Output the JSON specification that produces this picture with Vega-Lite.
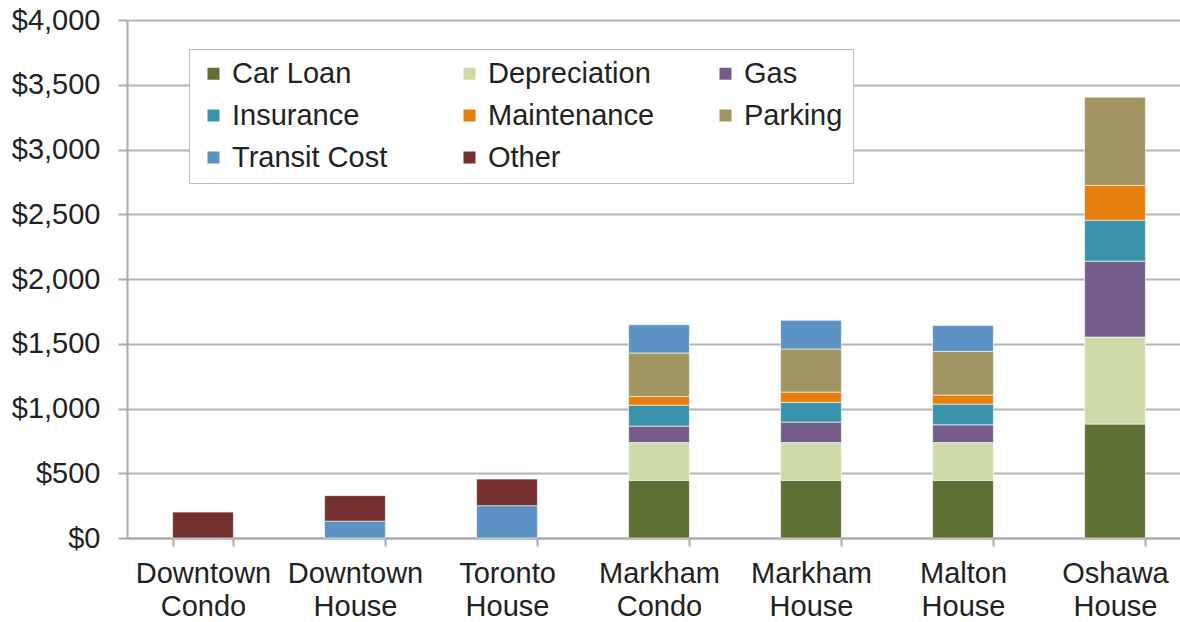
{
  "$schema": "https://vega.github.io/schema/vega-lite/v6.json",
  "width": 1064,
  "height": 518,
  "autosize": {"type": "none"},
  "padding": {"left": 127, "top": 20, "right": 0, "bottom": 84},
  "background": "white",
  "config": {"view": {"stroke": null}, "font": "Liberation Sans"},
  "data": {
    "values": [
      {"location": "Downtown Condo", "category": "Other", "cost": 200},
      {"location": "Downtown House", "category": "Transit Cost", "cost": 130},
      {"location": "Downtown House", "category": "Other", "cost": 197},
      {"location": "Toronto House", "category": "Transit Cost", "cost": 250},
      {"location": "Toronto House", "category": "Other", "cost": 205},
      {"location": "Markham Condo", "category": "Car Loan", "cost": 445},
      {"location": "Markham Condo", "category": "Depreciation", "cost": 292},
      {"location": "Markham Condo", "category": "Gas", "cost": 127},
      {"location": "Markham Condo", "category": "Insurance", "cost": 162},
      {"location": "Markham Condo", "category": "Maintenance", "cost": 67},
      {"location": "Markham Condo", "category": "Parking", "cost": 336},
      {"location": "Markham Condo", "category": "Transit Cost", "cost": 218},
      {"location": "Markham House", "category": "Car Loan", "cost": 445},
      {"location": "Markham House", "category": "Depreciation", "cost": 292},
      {"location": "Markham House", "category": "Gas", "cost": 158},
      {"location": "Markham House", "category": "Insurance", "cost": 152},
      {"location": "Markham House", "category": "Maintenance", "cost": 80},
      {"location": "Markham House", "category": "Parking", "cost": 333},
      {"location": "Markham House", "category": "Transit Cost", "cost": 221},
      {"location": "Malton House", "category": "Car Loan", "cost": 445},
      {"location": "Malton House", "category": "Depreciation", "cost": 292},
      {"location": "Malton House", "category": "Gas", "cost": 137},
      {"location": "Malton House", "category": "Insurance", "cost": 160},
      {"location": "Malton House", "category": "Maintenance", "cost": 70},
      {"location": "Malton House", "category": "Parking", "cost": 336},
      {"location": "Malton House", "category": "Transit Cost", "cost": 200},
      {"location": "Oshawa House", "category": "Car Loan", "cost": 880},
      {"location": "Oshawa House", "category": "Depreciation", "cost": 672},
      {"location": "Oshawa House", "category": "Gas", "cost": 586},
      {"location": "Oshawa House", "category": "Insurance", "cost": 316},
      {"location": "Oshawa House", "category": "Maintenance", "cost": 269},
      {"location": "Oshawa House", "category": "Parking", "cost": 681}
    ]
  },
  "transform": [
    {"calculate": "indexof(['Car Loan', 'Depreciation', 'Gas', 'Insurance', 'Maintenance', 'Parking', 'Transit Cost', 'Other'], datum.category)", "as": "stackRank"}
  ],
  "mark": {"type": "bar", "stroke": "#ffffff", "strokeWidth": 0.6},
  "encoding": {
    "x": {
      "field": "location",
      "type": "nominal",
      "sort": ["Downtown Condo", "Downtown House", "Toronto House", "Markham Condo", "Markham House", "Malton House", "Oshawa House"],
      "scale": {"paddingInner": 0.6, "paddingOuter": 0.3},
      "axis": {
        "title": null,
        "labelAngle": 0,
        "labelExpr": "split(datum.label, ' ')",
        "labelLineHeight": 33,
        "labelFontSize": 29,
        "labelColor": "#222222",
        "labelPadding": 13,
        "tickBand": "extent",
        "tickSize": 8,
        "tickColor": "#aaaaaa",
        "tickWidth": 2,
        "domainColor": "#aaaaaa",
        "domainWidth": 2
      }
    },
    "y": {
      "field": "cost",
      "type": "quantitative",
      "stack": "zero",
      "scale": {"domain": [0, 4000]},
      "axis": {
        "title": null,
        "values": [0, 500, 1000, 1500, 2000, 2500, 3000, 3500, 4000],
        "format": "$,.0f",
        "labelFontSize": 29,
        "labelColor": "#222222",
        "labelPadding": 18,
        "tickSize": 9,
        "tickColor": "#aaaaaa",
        "tickWidth": 2,
        "domainColor": "#aaaaaa",
        "domainWidth": 2,
        "gridColor": "#b4b4b4",
        "gridWidth": 2
      }
    },
    "order": {"field": "stackRank", "type": "quantitative", "sort": "ascending"},
    "color": {
      "field": "category",
      "type": "nominal",
      "scale": {
        "domain": ["Car Loan", "Depreciation", "Gas", "Insurance", "Maintenance", "Parking", "Transit Cost", "Other"],
        "range": ["#5f7035", "#cfdaab", "#755d8b", "#3b93ab", "#e67e0b", "#a09560", "#5d92c5", "#74302e"]
      },
      "legend": {
        "title": null,
        "orient": "none",
        "direction": "horizontal",
        "legendX": 62,
        "legendY": 29,
        "columns": 3,
        "gridAlign": "all",
        "symbolType": "square",
        "symbolSize": 144,
        "symbolStrokeWidth": 0,
        "labelFontSize": 29,
        "labelColor": "#222222",
        "labelOffset": 4,
        "labelLimit": 400,
        "columnPadding": 56,
        "rowPadding": 12,
        "padding": 10,
        "strokeColor": "#bbbbbb",
        "fillColor": "#ffffff"
      }
    }
  }
}
